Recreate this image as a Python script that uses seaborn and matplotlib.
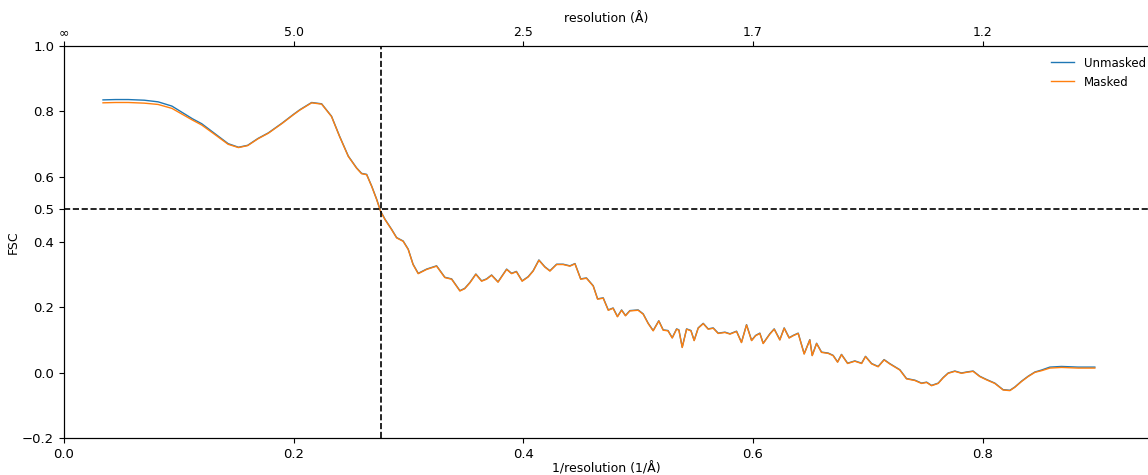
import numpy as np
import pandas as pd
import seaborn as sns
import matplotlib
matplotlib.use("Agg")
import matplotlib.pyplot as plt

# spatial frequency (1/A)
freq = [0.034, 0.045, 0.056, 0.070, 0.082, 0.094, 0.105, 0.112, 0.120, 0.131,
        0.143, 0.152, 0.160, 0.169, 0.178, 0.190, 0.200, 0.2055, 0.2157, 0.2244,
        0.233, 0.240, 0.2476, 0.2548, 0.2592, 0.2636, 0.268, 0.2723, 0.2757, 0.2795,
        0.2853, 0.2897, 0.2954, 0.2998, 0.304, 0.3085, 0.3158, 0.3245, 0.3317, 0.3376,
        0.3448, 0.349, 0.3535, 0.3587, 0.3637, 0.368, 0.3724, 0.378, 0.3855, 0.3898,
        0.394, 0.399, 0.4043, 0.4086, 0.4136, 0.4188, 0.4232, 0.429, 0.4347, 0.4406,
        0.445, 0.450, 0.455, 0.4609, 0.4647, 0.4696, 0.474, 0.4782, 0.482, 0.4856,
        0.489, 0.4928, 0.500, 0.5044, 0.5088, 0.5131, 0.518, 0.5218, 0.526, 0.5297,
        0.5335, 0.5355, 0.5384, 0.5422, 0.546, 0.5488, 0.5523, 0.5567, 0.561, 0.5654,
        0.5697, 0.5756, 0.580, 0.5857, 0.590, 0.5944, 0.5988, 0.6023, 0.606, 0.6089,
        0.6147, 0.6185, 0.6234, 0.6272, 0.6315, 0.635, 0.6394, 0.6446, 0.6495, 0.6516,
        0.6554, 0.6597, 0.6655, 0.6698, 0.6737, 0.6771, 0.6824, 0.6887, 0.6946, 0.698,
        0.7033, 0.709, 0.7142, 0.719, 0.7279, 0.7337, 0.741, 0.7468, 0.7512, 0.7555,
        0.7613, 0.7656, 0.770, 0.7758, 0.7816, 0.786, 0.7917, 0.7975, 0.8034, 0.8106,
        0.8178, 0.8237, 0.828, 0.8339, 0.8396, 0.8455, 0.8513, 0.8585, 0.8687, 0.8832,
        0.8977]

fsc_masked = [0.826, 0.827, 0.827, 0.825, 0.821, 0.809, 0.787, 0.773, 0.758, 0.730,
              0.699, 0.689, 0.695, 0.716, 0.733, 0.763, 0.790, 0.804, 0.826, 0.822,
              0.784, 0.723, 0.662, 0.626, 0.609, 0.606, 0.570, 0.530, 0.494, 0.469,
              0.438, 0.4125, 0.402, 0.377, 0.331, 0.303, 0.316, 0.326, 0.291, 0.286,
              0.250, 0.257, 0.275, 0.301, 0.280, 0.286, 0.298, 0.277, 0.316, 0.303,
              0.309, 0.280, 0.293, 0.311, 0.344, 0.323, 0.311, 0.331, 0.331, 0.326,
              0.333, 0.286, 0.289, 0.265, 0.225, 0.228, 0.191, 0.197, 0.171, 0.191,
              0.174, 0.189, 0.191, 0.179, 0.150, 0.128, 0.158, 0.130, 0.128, 0.106,
              0.133, 0.130, 0.077, 0.133, 0.128, 0.098, 0.136, 0.150, 0.133, 0.136,
              0.120, 0.123, 0.118, 0.126, 0.092, 0.146, 0.098, 0.113, 0.120, 0.089,
              0.118, 0.133, 0.100, 0.136, 0.106, 0.113, 0.120, 0.057, 0.100, 0.052,
              0.089, 0.062, 0.059, 0.052, 0.032, 0.055, 0.028, 0.035, 0.028, 0.049,
              0.027, 0.018, 0.039, 0.027, 0.008, -0.019, -0.024, -0.033, -0.030, -0.040,
              -0.033, -0.016, -0.002, 0.004, -0.002, 0.001, 0.004, -0.012, -0.022, -0.033,
              -0.053, -0.055, -0.045, -0.027, -0.012, 0.001, 0.006, 0.014, 0.016, 0.014,
              0.014]

fsc_unmasked = [0.835, 0.836, 0.836, 0.834, 0.829, 0.816, 0.792, 0.777, 0.762, 0.733,
                0.701, 0.690, 0.696, 0.717, 0.734, 0.764, 0.791, 0.805, 0.827, 0.823,
                0.785, 0.724, 0.663, 0.627, 0.610, 0.607, 0.571, 0.531, 0.495, 0.470,
                0.439, 0.4135, 0.403, 0.378, 0.332, 0.304, 0.317, 0.327, 0.292, 0.287,
                0.251, 0.258, 0.276, 0.302, 0.281, 0.287, 0.299, 0.278, 0.317, 0.304,
                0.310, 0.281, 0.294, 0.312, 0.345, 0.324, 0.312, 0.332, 0.332, 0.327,
                0.334, 0.287, 0.290, 0.266, 0.226, 0.229, 0.192, 0.198, 0.172, 0.192,
                0.175, 0.190, 0.192, 0.180, 0.151, 0.129, 0.159, 0.131, 0.129, 0.107,
                0.134, 0.131, 0.078, 0.134, 0.129, 0.099, 0.137, 0.151, 0.134, 0.137,
                0.121, 0.124, 0.119, 0.127, 0.093, 0.147, 0.099, 0.114, 0.121, 0.090,
                0.119, 0.134, 0.101, 0.137, 0.107, 0.114, 0.121, 0.058, 0.101, 0.053,
                0.090, 0.063, 0.060, 0.053, 0.033, 0.056, 0.029, 0.036, 0.029, 0.050,
                0.028, 0.019, 0.040, 0.028, 0.009, -0.018, -0.023, -0.032, -0.029, -0.039,
                -0.032, -0.015, -0.001, 0.005, -0.001, 0.002, 0.005, -0.011, -0.021, -0.032,
                -0.052, -0.054, -0.044, -0.026, -0.011, 0.002, 0.008, 0.017, 0.019, 0.017,
                0.017]

threshold = 0.5
crossing = 0.276
y_ticks = [-0.2, 0.0, 0.2, 0.4, 0.5, 0.6, 0.8, 1.0]
x_ticks = [0.0, 0.2, 0.4, 0.6, 0.8]

df = pd.DataFrame({
    "freq": freq * 2,
    "fsc": fsc_unmasked + fsc_masked,
    "kind": ["Unmasked"] * len(freq) + ["Masked"] * len(freq),
})

fig = plt.figure(figsize=(11.48, 4.75), dpi=100)
ax = fig.add_axes([0.0557, 0.0779, 0.9443, 0.8253])

sns.lineplot(data=df, x="freq", y="fsc", hue="kind", sort=False,
             palette={"Unmasked": "tab:blue", "Masked": "tab:orange"},
             linewidth=1.0, ax=ax)

ax.axhline(threshold, color="black", linestyle="--", linewidth=1.2)
ax.axvline(crossing, color="black", linestyle="--", linewidth=1.2)

ax.set_xlim(0, 0.944)
ax.set_ylim(-0.2, 1.0)
ax.set_xticks(x_ticks)
ax.set_yticks(y_ticks)
ax.tick_params(labelsize=9.5)
ax.set_xlabel("1/resolution (1/Å)", fontsize=9, labelpad=1)
ax.set_ylabel("FSC", fontsize=9, labelpad=2)
ax.spines["right"].set_visible(False)
ax.legend(loc="upper right", frameon=False, title=None, fontsize=8.5,
          bbox_to_anchor=(1.008, 1.0), handlelength=2.0)

top = ax.twiny()
top.set_xlim(ax.get_xlim())
top.set_xticks(x_ticks)
top.set_xticklabels(["∞"] + ["%.1f" % (1 / t) for t in x_ticks[1:]])
top.tick_params(labelsize=9, pad=1.5)
top.set_xlabel("resolution (Å)", fontsize=9, labelpad=3)
top.spines["right"].set_visible(False)

fig.savefig("out.png", dpi=100)
